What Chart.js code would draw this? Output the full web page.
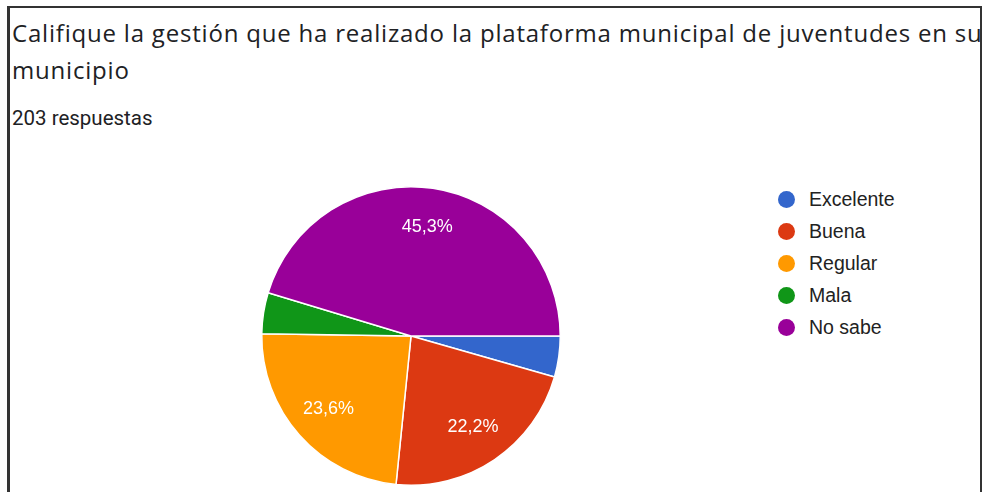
<!DOCTYPE html>
<html>
<head>
<meta charset="utf-8">
<script src="https://cdn.jsdelivr.net/npm/chart.js@4"></script>
<style>
  html, body { margin: 0; padding: 0; background: #fff; }
  body { width: 983px; height: 492px; overflow: hidden; position: relative; }
  #card {
    position: absolute; left: 7px; top: 6px; width: 970px; height: 500px;
    border: 2px solid #333; border-left-width: 3px; border-bottom: none;
    overflow: hidden; background: #fff;
  }
  #title {
    position: absolute; left: 2px; top: 6px; white-space: nowrap;
    font-family: "Open Sans", sans-serif; font-size: 24px; line-height: 37px;
    letter-spacing: 0.8px; color: #202124;
  }
  #count {
    position: absolute; left: 2px; top: 98px;
    font-family: Roboto, sans-serif; font-size: 20.5px; color: #202124;
  }
  #chartBox { position: absolute; left: 252px; top: 177px; width: 318px; height: 318px; }
  #legend { position: absolute; left: 778px; top: 183px; font-family: "Liberation Sans", Arial, sans-serif; font-size: 19.5px; color: #222; }
  #legend div { height: 32px; line-height: 26px; display: flex; align-items: center; }
  #legend span.dot { width: 17px; height: 17px; border-radius: 50%; display: inline-block; margin-right: 14px; }
</style>
</head>
<body>
<div id="card">
  <div id="title">Califique la gestión que ha realizado la plataforma municipal de juventudes en su<br>municipio</div>
  <div id="count">203 respuestas</div>
</div>
<div id="chartBox"><canvas id="pieChart"></canvas></div>
<div id="legend"></div>
<script>
const categories = ['Excelente', 'Buena', 'Regular', 'Mala', 'No sabe'];
const responses = [9, 45, 48, 9, 92];
const colors = ['#3366cc', '#dc3912', '#ff9900', '#109618', '#990099'];

// legend built from the same arrays
const legend = document.getElementById('legend');
categories.forEach((name, i) => {
  legend.innerHTML += `<div><span class="dot" style="background:${colors[i]}"></span>${name}</div>`;
});

// white percentage labels inside the bigger slices
const sliceLabels = {
  id: 'sliceLabels',
  afterDatasetsDraw(chart) {
    const ctx = chart.ctx;
    const data = chart.data.datasets[0].data;
    const total = data.reduce((a, b) => a + b, 0);
    ctx.save();
    ctx.font = '18px "Liberation Sans", Arial, sans-serif';
    ctx.fillStyle = '#fff';
    ctx.textAlign = 'center';
    ctx.textBaseline = 'middle';
    chart.getDatasetMeta(0).data.forEach((arc, i) => {
      const pct = data[i] / total * 100;
      if (pct < 5) return;
      const mid = (arc.startAngle + arc.endAngle) / 2;
      const r = arc.outerRadius * 0.74;
      const txt = pct.toFixed(1).replace('.', ',') + '%';
      ctx.fillText(txt, arc.x + Math.cos(mid) * r, arc.y + Math.sin(mid) * r);
    });
    ctx.restore();
  }
};

const ctx = document.getElementById('pieChart').getContext('2d');
new Chart(ctx, {
  type: 'pie',
  data: {
    labels: categories,
    datasets: [{
      data: responses,
      backgroundColor: colors,
      borderColor: '#fff',
      borderWidth: 1.5
    }]
  },
  options: {
    responsive: true,
    maintainAspectRatio: false,
    animation: false,
    rotation: 90,
    layout: { padding: 9 },
    plugins: {
      legend: { display: false },
      tooltip: { enabled: false }
    }
  },
  plugins: [sliceLabels]
});
</script>
</body>
</html>
